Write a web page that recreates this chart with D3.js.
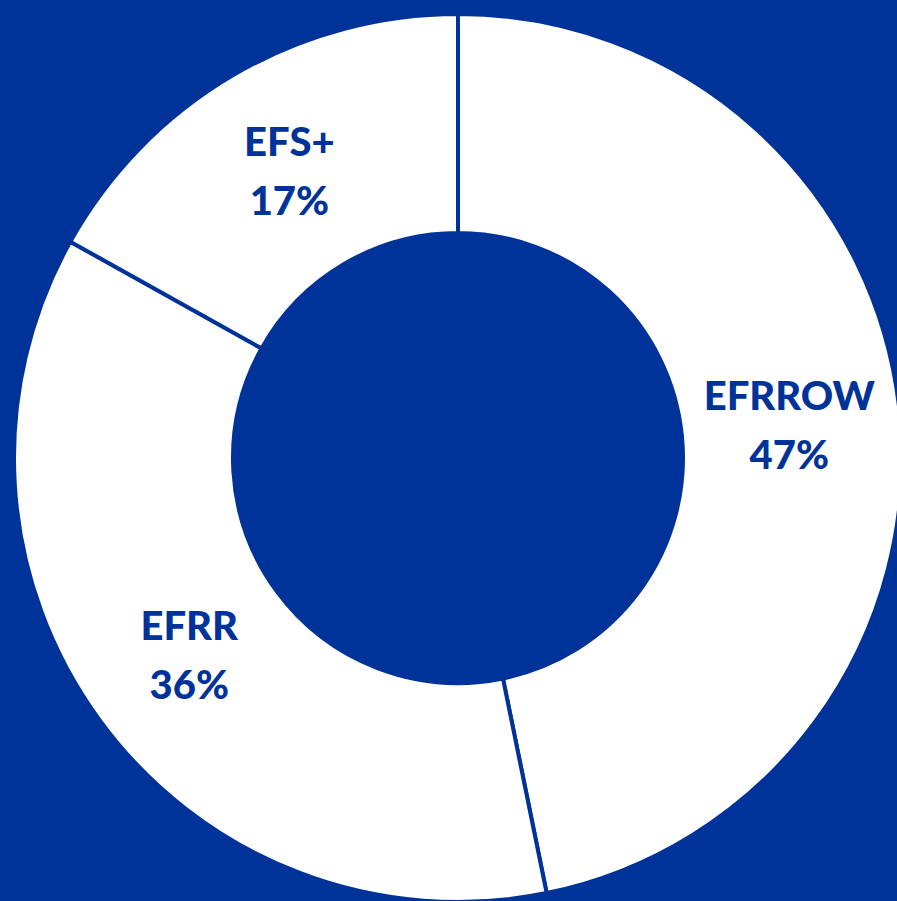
<!DOCTYPE html>
<html>
<head>
<meta charset="utf-8">
<script src="https://cdn.jsdelivr.net/npm/d3@7"></script>
<style>
  html, body { margin: 0; padding: 0; background: #003399; overflow: hidden; }
  svg { display: block; }
</style>
</head>
<body>
<div id="chart"></div>
<script>
var w = 897,
  h = 901;

// slice data, clockwise from 12 o'clock (labels show rounded shares)
const names = ["EFRROW", "EFRR", "EFS+"];
const shares = [46.8, 36.3, 16.9];

var blue = "#003399";

var cx = 458,
  cy = 458;

var pie = d3.pie()
  .sort(null)
  .value(d => d.value);

var slices = pie(names.map((n, i) => ({ name: n, value: shares[i] })));

var arc = d3.arc()
  .innerRadius(225)
  .outerRadius(444);

var labelArc = d3.arc()
  .innerRadius(333)
  .outerRadius(333);

var svg = d3.select("#chart")
  .append("svg")
  .attr("width", w)
  .attr("height", h);

svg.append("rect")
  .attr("width", w)
  .attr("height", h)
  .attr("fill", blue);

var g = svg.append("g")
  .attr("transform", `translate(${cx},${cy})`);

g.selectAll("path")
  .data(slices)
  .enter()
  .append("path")
  .attr("d", arc)
  .attr("fill", "#ffffff")
  .attr("stroke", blue)
  .attr("stroke-width", 4)
  .attr("stroke-linejoin", "miter");

var labels = g.selectAll("text.label")
  .data(slices)
  .enter()
  .append("text")
  .attr("class", "label")
  .attr("transform", d => `translate(${labelArc.centroid(d)})`)
  .attr("text-anchor", "middle")
  .attr("fill", blue)
  .style("font-family", "Lato, 'Open Sans', sans-serif")
  .style("font-weight", "900")
  .style("font-size", "40px");

labels.append("tspan")
  .attr("x", 0)
  .attr("y", -15)
  .text(d => d.data.name);

labels.append("tspan")
  .attr("x", 0)
  .attr("y", 44)
  .text(d => Math.round(d.data.value) + "%");
</script>
</body>
</html>
